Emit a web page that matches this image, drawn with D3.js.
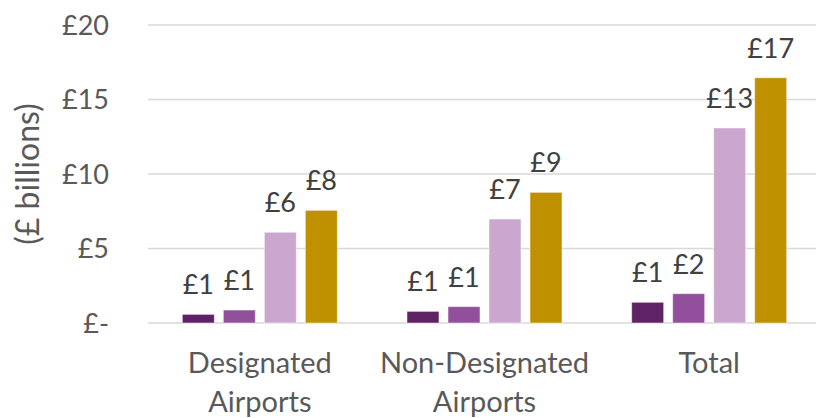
<!DOCTYPE html>
<html><head><meta charset="utf-8">
<script src="https://cdn.jsdelivr.net/npm/d3@7"></script>
<style>
html,body{margin:0;padding:0;background:#fff;}
svg{display:block;font-family:Lato, "Open Sans", sans-serif;}
</style></head>
<body><svg id="c" width="816" height="418"></svg>
<script>
const categories = [["Designated","Airports"],["Non-Designated","Airports"],["Total"]];
const series = ["s1","s2","s3","s4"];
const colors = ["#5f2265","#924f9c","#cba7d0","#bf9000"];
const values = [
  [0.58, 0.87, 6.09, 7.56],
  [0.78, 1.10, 6.98, 8.77],
  [1.39, 1.97, 13.09, 16.46]
];
const labels = [
  ["£1","£1","£6","£8"],
  ["£1","£1","£7","£9"],
  ["£1","£2","£13","£17"]
];
const yTicks = [0,5,10,15,20];
const yTickLabels = ["£-","£5","£10","£15","£20"];
const yTitle = "(£ billions)";

const svg = d3.select("#c");
const y = d3.scaleLinear().domain([0,20]).range([323,25]);
const x0 = d3.scaleBand().domain(d3.range(categories.length)).range([147.5,821.5]).padding(0);
const p = 9/41;
const x1 = d3.scaleBand().domain(series).range([-82,82]).paddingInner(p).paddingOuter(p/2);

// gridlines
svg.append("g").selectAll("line").data(yTicks).join("line")
  .attr("x1",148).attr("x2",816)
  .attr("y1",d=>y(d)).attr("y2",d=>y(d))
  .attr("stroke","#d9d9d9").attr("stroke-width",1.5);

// y tick labels
svg.append("g").selectAll("text").data(yTicks).join("text")
  .attr("x",109).attr("y",d=>y(d)).attr("dy","0.36em")
  .attr("text-anchor","end").attr("fill","#595959").attr("font-size",27)
  .text((d,i)=>yTickLabels[i]);

// y title
svg.append("text").attr("transform","translate(39,174) rotate(-90)")
  .attr("text-anchor","middle").attr("fill","#595959").attr("font-size",32)
  .text(yTitle);

// bars
const groups = svg.append("g").selectAll("g").data(values).join("g")
  .attr("transform",(d,i)=>`translate(${x0(i)+x0.bandwidth()/2},0)`);
groups.selectAll("rect").data(d=>d).join("rect")
  .attr("x",(d,j)=>x1(series[j])).attr("width",x1.bandwidth())
  .attr("y",d=>y(d)).attr("height",d=>y(0)-y(d))
  .attr("fill",(d,j)=>colors[j])
  .attr("stroke","#ffffff").attr("stroke-opacity",0.5).attr("stroke-width",1);
groups.selectAll("text").data((d,i)=>d.map((v,j)=>({v,l:labels[i][j]}))).join("text")
  .attr("x",(d,j)=>x1(series[j])+x1.bandwidth()/2)
  .attr("y",d=>y(d.v)-20)
  .attr("text-anchor","middle").attr("fill","#404040").attr("font-size",27)
  .text(d=>d.l);

// category labels
const cat = svg.append("g").selectAll("text").data(categories).join("text")
  .attr("transform",(d,i)=>`translate(${x0(i)+x0.bandwidth()/2},373)`)
  .attr("text-anchor","middle").attr("fill","#595959").attr("font-size",29);
cat.selectAll("tspan").data(d=>d).join("tspan")
  .attr("x",0).attr("dy",(d,k)=>k===0?0:39).text(d=>d);
</script></body></html>
